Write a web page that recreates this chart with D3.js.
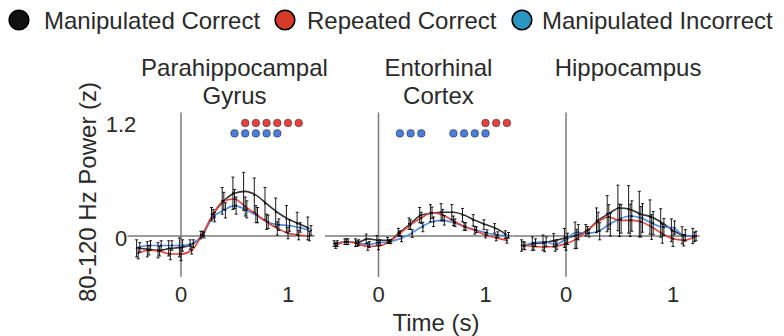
<!DOCTYPE html>
<html>
<head>
<meta charset="utf-8">
<script src="https://cdn.jsdelivr.net/npm/d3@7"></script>
<style>
  html, body { margin: 0; padding: 0; background: #fff; }
  svg { display: block; font-family: "Liberation Sans", Arial, Helvetica, sans-serif; }
</style>
</head>
<body>
<svg id="chart" width="784" height="336"></svg>
<script>
// ---------------- DATA ----------------
const times = [-0.4,-0.3,-0.2,-0.1,0,0.1,0.2,0.3,0.4,0.5,0.6,0.7,0.8,0.9,1.0,1.1,1.2];
const categories = ["Manipulated Correct", "Repeated Correct", "Manipulated Incorrect"];
const regionTitles = [["Parahippocampal", "Gyrus"], ["Entorhinal", "Cortex"], ["Hippocampus"]];
const xTickValues = [0, 1];
const yTickValues = [0, 1.2];
const yTickLabels = ["0", "1.2"];

// Parahippocampal Gyrus
const phgMC = [-0.13,-0.14,-0.15,-0.13,-0.12,-0.09,0.01,0.23,0.37,0.45,0.47,0.43,0.34,0.25,0.18,0.13,0.08];
const phgRC = [-0.18,-0.15,-0.16,-0.19,-0.19,-0.15,0.02,0.23,0.37,0.39,0.31,0.23,0.15,0.08,0.03,0.01,0.00];
const phgMI = [-0.12,-0.10,-0.10,-0.10,-0.10,-0.08,0.01,0.20,0.27,0.32,0.28,0.22,0.15,0.12,0.11,0.09,0.06];
const phgSemMC = [0.09,0.08,0.08,0.08,0.10,0.05,0.04,0.07,0.14,0.17,0.20,0.18,0.17,0.15,0.14,0.12,0.12];
const phgSemRC = [0.06,0.05,0.05,0.06,0.07,0.04,0.03,0.05,0.09,0.10,0.10,0.09,0.08,0.07,0.06,0.05,0.05];
const phgSemMI = [0.05,0.05,0.05,0.05,0.06,0.04,0.03,0.05,0.08,0.09,0.09,0.08,0.07,0.06,0.06,0.05,0.05];
const phgSigRC = [0.6,0.7,0.8,0.9,1.0,1.1];
const phgSigMI = [0.5,0.6,0.7,0.8,0.9];

// Entorhinal Cortex
const ercMC = [-0.08,-0.06,-0.07,-0.03,-0.045,-0.045,0.04,0.13,0.22,0.24,0.25,0.25,0.22,0.165,0.12,0.08,0.015];
const ercRC = [-0.10,-0.06,-0.08,-0.11,-0.105,-0.06,0.025,0.12,0.19,0.245,0.22,0.16,0.10,0.06,0.01,-0.02,-0.045];
const ercMI = [-0.08,-0.06,-0.07,-0.09,-0.07,-0.06,-0.03,0.025,0.095,0.15,0.165,0.14,0.10,0.067,0.035,0.014,0.007];
const ercSemMC = [0.03,0.03,0.04,0.05,0.05,0.03,0.04,0.06,0.08,0.09,0.09,0.08,0.07,0.06,0.05,0.05,0.04];
const ercSemRC = [0.03,0.03,0.03,0.04,0.04,0.02,0.03,0.05,0.06,0.06,0.06,0.05,0.04,0.04,0.03,0.03,0.03];
const ercSemMI = [0.03,0.03,0.03,0.03,0.03,0.02,0.03,0.04,0.05,0.05,0.05,0.04,0.04,0.03,0.03,0.03,0.03];
const ercSigRC = [1.0,1.1,1.2];
const ercSigMI = [0.2,0.3,0.4,0.7,0.8,0.9,1.0];

// Hippocampus
const hipMC = [-0.10,-0.08,-0.07,-0.045,-0.02,0.007,0.06,0.165,0.235,0.295,0.28,0.23,0.20,0.137,0.06,0.007,0.00];
const hipRC = [-0.10,-0.11,-0.115,-0.11,-0.08,-0.03,0.06,0.15,0.20,0.165,0.165,0.15,0.095,0.025,-0.03,-0.045,-0.01];
const hipMI = [-0.105,-0.07,-0.06,-0.09,-0.03,0.04,0.03,0.05,0.12,0.18,0.21,0.19,0.137,0.095,0.088,0.007,0.00];
const hipSemMC = [0.06,0.07,0.08,0.07,0.10,0.14,0.06,0.13,0.19,0.24,0.25,0.24,0.18,0.15,0.12,0.09,0.08];
const hipSemRC = [0.04,0.04,0.05,0.05,0.07,0.10,0.04,0.10,0.13,0.17,0.17,0.16,0.13,0.10,0.08,0.06,0.05];
const hipSemMI = [0.04,0.04,0.05,0.05,0.06,0.08,0.04,0.09,0.12,0.15,0.16,0.15,0.12,0.09,0.07,0.06,0.05];
const hipSigRC = [];
const hipSigMI = [];

// significance rows (in z units)
const sigLevelRC = 1.19;
const sigLevelMI = 1.08;

// ---------------- STYLE / LAYOUT ----------------
const lineColors = ["#333333", "#e8403a", "#4f8ae6"];
const legendColors = ["#111111", "#d63b27", "#2996c1"];
const dotColors = { RC: "#e8403a", MI: "#4a7fdc" };
const axisColor = "#7a7a7a";
const textColor = "#2a2a2a";
const panelOrigins = [181, 378.5, 566];   // pixel of t=0
const pxPerSecond = 107;
const titleCenters = [0.5, 0.56, 0.58];   // in seconds, per panel

const svg = d3.select("#chart");

const y = d3.scaleLinear().domain([0, 1.2]).range([236, 122]);

const panels = [
  { series: [phgMC, phgRC, phgMI], sems: [phgSemMC, phgSemRC, phgSemMI], sigRC: phgSigRC, sigMI: phgSigMI },
  { series: [ercMC, ercRC, ercMI], sems: [ercSemMC, ercSemRC, ercSemMI], sigRC: ercSigRC, sigMI: ercSigMI },
  { series: [hipMC, hipRC, hipMI], sems: [hipSemMC, hipSemRC, hipSemMI], sigRC: hipSigRC, sigMI: hipSigMI }
];

panels.forEach((p, pi) => {
  const x = d3.scaleLinear().domain([0, 1]).range([panelOrigins[pi], panelOrigins[pi] + pxPerSecond]);
  const g = svg.append("g");

  // title
  const title = g.append("text")
    .attr("x", x(titleCenters[pi]))
    .attr("y", 76)
    .attr("text-anchor", "middle")
    .attr("font-size", 24)
    .attr("fill", textColor);
  regionTitles[pi].forEach((line, li) => {
    title.append("tspan").attr("x", x(titleCenters[pi])).attr("dy", li === 0 ? 0 : 28).text(line);
  });

  // horizontal zero line
  g.append("line")
    .attr("x1", x(-0.5)).attr("x2", x(1.25))
    .attr("y1", y(0)).attr("y2", y(0))
    .attr("stroke", axisColor).attr("stroke-width", 1.5);
  // vertical t=0 line
  g.append("line")
    .attr("x1", x(0)).attr("x2", x(0))
    .attr("y1", y(1.3)).attr("y2", y(-0.43))
    .attr("stroke", axisColor).attr("stroke-width", 1.5);

  // x tick labels
  g.selectAll(".xt").data(xTickValues).join("text")
    .attr("x", d => x(d)).attr("y", 302)
    .attr("text-anchor", "middle").attr("font-size", 22).attr("fill", textColor)
    .text(d => d3.format("d")(d));

  // lines
  const line = d3.line().x((d, i) => x(times[i])).y(d => y(d)).curve(d3.curveMonotoneX);
  [0, 2, 1].forEach(si => {
    g.append("path").datum(p.series[si])
      .attr("d", line)
      .attr("fill", "none")
      .attr("stroke", lineColors[si])
      .attr("stroke-width", 1.6);
  });

  // error bars
  p.series.forEach((vals, si) => {
    const dx = (si - 1) * 1.6;
    const eb = g.append("g").attr("stroke", "#000").attr("stroke-width", 0.9);
    vals.forEach((v, i) => {
      const cx = x(times[i]) + dx;
      const e = p.sems[si][i];
      eb.append("line").attr("x1", cx).attr("x2", cx).attr("y1", y(v + e)).attr("y2", y(v - e));
      eb.append("line").attr("x1", cx - 1.5).attr("x2", cx + 1.5).attr("y1", y(v + e)).attr("y2", y(v + e));
      eb.append("line").attr("x1", cx - 1.5).attr("x2", cx + 1.5).attr("y1", y(v - e)).attr("y2", y(v - e));
      eb.append("circle").attr("cx", cx).attr("cy", y(v)).attr("r", 0.9).attr("fill", "#000").attr("stroke", "none");
    });
  });

  // significance dots
  g.selectAll(".sigRC").data(p.sigRC).join("circle")
    .attr("cx", d => x(d)).attr("cy", y(sigLevelRC)).attr("r", 3.8)
    .attr("fill", dotColors.RC).attr("stroke", "#333").attr("stroke-width", 0.6);
  g.selectAll(".sigMI").data(p.sigMI).join("circle")
    .attr("cx", d => x(d)).attr("cy", y(sigLevelMI)).attr("r", 3.8)
    .attr("fill", dotColors.MI).attr("stroke", "#333").attr("stroke-width", 0.6);
});

// y tick labels (first panel only)
svg.selectAll(".yt").data(yTickValues).join("text")
  .attr("x", 121).attr("y", d => y(d)).attr("dy", "0.45em")
  .attr("text-anchor", "middle").attr("font-size", 22).attr("fill", textColor)
  .text((d, i) => yTickLabels[i]);

// y axis title
svg.append("text")
  .attr("transform", "translate(96,192) rotate(-90)")
  .attr("text-anchor", "middle").attr("font-size", 24).attr("fill", textColor)
  .text("80-120 Hz Power (z)");

// x axis title
svg.append("text")
  .attr("x", 436).attr("y", 331)
  .attr("text-anchor", "middle").attr("font-size", 24).attr("fill", textColor)
  .text("Time (s)");

// legend
const legendCircleX = [19, 285, 522];
const legendTextX = [44, 307, 542];
categories.forEach((c, i) => {
  svg.append("circle").attr("cx", legendCircleX[i]).attr("cy", 20).attr("r", 9.8)
    .attr("fill", legendColors[i]).attr("stroke", "#000").attr("stroke-width", 1.6);
  svg.append("text").attr("x", legendTextX[i]).attr("y", 29)
    .attr("font-size", 24).attr("fill", textColor).text(c);
});
</script>
</body>
</html>
